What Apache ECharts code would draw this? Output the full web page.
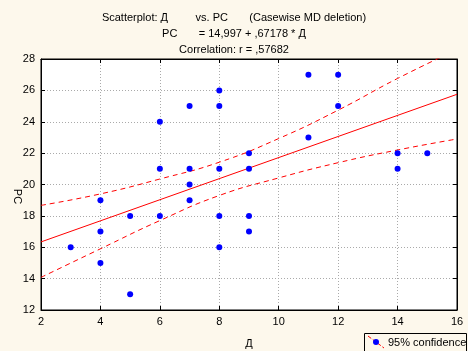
<!DOCTYPE html>
<html>
<head>
<meta charset="utf-8">
<script src="https://cdn.jsdelivr.net/npm/echarts@6/dist/echarts.min.js"></script>
<style>
  html, body { margin: 0; padding: 0; background: #fdf8ec; }
  #chart { width: 468px; height: 351px; }
</style>
</head>
<body>
<div id="chart"></div>
<script>
// scatter points (Д, PC)
var dVals = [3, 4, 4, 4, 5, 5, 6, 6, 6, 7, 7, 7, 7, 8, 8, 8, 8, 8, 9, 9, 9, 9, 11, 11, 12, 12, 14, 14, 15];
var pcVals = [16, 19, 17, 15, 18, 13, 24, 21, 18, 25, 21, 20, 19, 26, 25, 21, 18, 16, 22, 21, 18, 17, 27, 23, 27, 25, 22, 21, 22];

// regression line endpoints
var fitX = [2, 16];
var fitY = [16.34, 25.75];

// 95% confidence bands
var bandX = [2, 4, 6, 8, 10, 12, 14, 16];
var upperBand = [18.67, 19.4, 20.35, 21.42, 22.93, 24.74, 26.76, 28.6];
var lowerBand = [14.08, 15.9, 17.7, 19.3, 20.42, 21.39, 22.2, 22.9];

var xTicks = [2, 16, 2]; // min, max, interval
var yTicks = [12, 28, 2];

var font = 'Liberation Sans, Arial, sans-serif';

function pairs(xs, ys) {
  return xs.map(function (x, i) { return [x, ys[i]]; });
}

var chart = echarts.init(document.getElementById('chart'));

var axisCommon = {
  axisLine: { show: true, lineStyle: { color: '#000', width: 1 } },
  axisTick: { show: true, inside: true, length: 4, lineStyle: { color: '#000' } },
  axisLabel: { show: false },
  splitLine: { show: false }
};

chart.setOption({
  backgroundColor: '#fdf8ec',
  animation: false,
  title: [
    { text: 'Scatterplot: Д         vs. PC       (Casewise MD deletion)', left: 'center', top: 7,
      textStyle: { fontFamily: font, fontSize: 11, fontWeight: 'normal', color: '#000' } },
    { text: 'PC       = 14,997 + ,67178 * Д', left: 'center', top: 23,
      textStyle: { fontFamily: font, fontSize: 11, fontWeight: 'normal', color: '#000' } },
    { text: 'Correlation: r = ,57682', left: 'center', top: 39,
      textStyle: { fontFamily: font, fontSize: 11, fontWeight: 'normal', color: '#000' } }
  ],
  grid: { left: 41, right: 11, top: 59, bottom: 41, outerBoundsMode: 'none', show: true, backgroundColor: '#fff', borderColor: '#000', borderWidth: 1 },
  xAxis: [
    {
      type: 'value', min: xTicks[0], max: xTicks[1], interval: xTicks[2],
      name: 'Д', nameLocation: 'middle', nameGap: 28, nameMoveOverlap: false,
      nameTextStyle: { fontFamily: font, fontSize: 11, color: '#000' },
      axisLine: { show: true, lineStyle: { color: '#000' } },
      axisTick: { show: true, inside: true, length: 4, lineStyle: { color: '#000' } },
      axisLabel: { fontFamily: font, fontSize: 11, color: '#000', margin: 6 },
      splitLine: { show: true, lineStyle: { color: '#aaa', type: [1, 2] } }
    },
    Object.assign({ type: 'value', position: 'top', min: xTicks[0], max: xTicks[1], interval: xTicks[2] }, axisCommon)
  ],
  yAxis: [
    {
      type: 'value', min: yTicks[0], max: yTicks[1], interval: yTicks[2],
      name: 'PC', nameLocation: 'middle', nameGap: 18, nameRotate: -90, nameMoveOverlap: false,
      nameTextStyle: { fontFamily: font, fontSize: 11, color: '#000', padding: [0, 0, 0, 24] },
      axisLine: { show: true, lineStyle: { color: '#000' } },
      axisTick: { show: true, inside: true, length: 4, lineStyle: { color: '#000' } },
      axisLabel: { fontFamily: font, fontSize: 11, color: '#000', margin: 6 },
      splitLine: { show: true, lineStyle: { color: '#aaa', type: [1, 2] } }
    },
    Object.assign({ type: 'value', position: 'right', min: yTicks[0], max: yTicks[1], interval: yTicks[2] }, axisCommon)
  ],
  series: [
    {
      type: 'line', data: pairs(bandX, upperBand), smooth: true, symbol: 'none', clip: true,
      lineStyle: { color: '#ff0000', width: 1, type: [5, 4] }, z: 2
    },
    {
      type: 'line', data: pairs(bandX, lowerBand), smooth: true, symbol: 'none', clip: true,
      lineStyle: { color: '#ff0000', width: 1, type: [5, 4] }, z: 2
    },
    {
      type: 'line', data: pairs(fitX, fitY), symbol: 'none', clip: true,
      lineStyle: { color: '#ff0000', width: 1 }, z: 3
    },
    {
      type: 'scatter', data: pairs(dVals, pcVals), symbol: 'circle', symbolSize: 6,
      itemStyle: { color: '#0000ff', opacity: 1 }, z: 4
    }
  ],
  graphic: [
    { type: 'rect', shape: { x: 364.5, y: 333.5, width: 102, height: 20 },
      style: { fill: '#fdf8ec', stroke: '#000', lineWidth: 1 } },
    { type: 'line', shape: { x1: 368, y1: 336, x2: 384, y2: 348 },
      style: { stroke: '#ff0000', lineWidth: 1, lineDash: [4, 2] } },
    { type: 'circle', shape: { cx: 376, cy: 342, r: 3 }, style: { fill: '#0000ff' } },
    { type: 'text', x: 388, y: 343,
      style: { text: '95% confidence', font: '11px ' + font, fill: '#000', verticalAlign: 'middle' } }
  ]
});
</script>
</body>
</html>
